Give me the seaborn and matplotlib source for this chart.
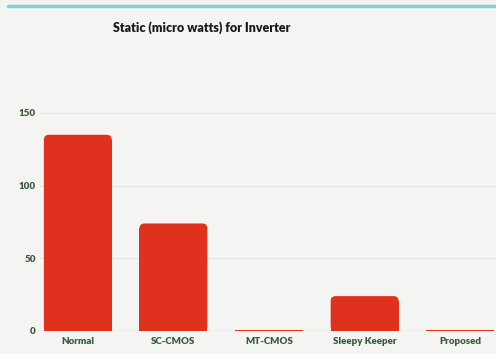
import matplotlib
matplotlib.use("Agg")
import matplotlib.pyplot as plt
import seaborn as sns
import pandas as pd
from matplotlib.patches import FancyBboxPatch

# Static power per inverter design (micro watts)
designs = ["Normal", "SC-CMOS", "MT-CMOS", "Sleepy Keeper", "Proposed"]
static_uw = [135, 74, 0.8, 24, 0.8]
y_ticks = [0, 50, 100, 150]

bg = "#f4f4f3"
bar_color = "#e0301e"
label_color = "#3a5a3a"

sns.set_theme(style="white")
plt.rcParams["font.family"] = ["Lato", "DejaVu Sans"]

df = pd.DataFrame({"design": designs, "static": static_uw})

W, H = 496, 354
fig = plt.figure(figsize=(W / 100, H / 100), dpi=100, facecolor=bg)
ax = fig.add_axes([40 / W, 1 - 331 / H, 1 - 40 / W, (331 - 113) / H])
ax.set_facecolor(bg)

sns.barplot(data=df, x="design", y="static", color=bar_color, width=0.71,
            saturation=1, ax=ax, zorder=3, linewidth=0, edgecolor="none")

ax.set_xlim(-0.5 + 10 / 95.5, 4.5 - 12 / 95.5)
ax.set_ylim(0, 150)
ax.set_yticks(y_ticks)
ax.set_yticklabels([str(t) for t in y_ticks])

# rounded top corners on the bars
fig.canvas.draw()
x_per_px = (ax.get_xlim()[1] - ax.get_xlim()[0]) / ax.bbox.width
y_per_px = (ax.get_ylim()[1] - ax.get_ylim()[0]) / ax.bbox.height
r_px = 5
for p in list(ax.patches):
    x0, w, h = p.get_x(), p.get_width(), p.get_height()
    r = r_px * x_per_px
    if h / y_per_px > 2 * r_px:
        p.set_height(h - r_px * y_per_px)
        rounded = FancyBboxPatch((x0, 0), w, h,
                                 boxstyle=f"round,pad=0,rounding_size={r}",
                                 mutation_aspect=y_per_px / x_per_px,
                                 facecolor=bar_color, edgecolor="none",
                                 linewidth=0, zorder=3)
        ax.add_patch(rounded)

for s in ax.spines.values():
    s.set_visible(False)
ax.grid(axis="y", color="#e4e4e4", linewidth=0.8, zorder=0)
ax.axhline(0, color="#d6d6d6", linewidth=1.0, zorder=1)

ax.set_xlabel("")
ax.set_ylabel("")
ax.tick_params(axis="both", length=0, labelsize=7, labelcolor=label_color)
ax.tick_params(axis="y", pad=3)
ax.tick_params(axis="x", pad=4)
for t in ax.get_xticklabels() + ax.get_yticklabels():
    t.set_fontweight("heavy")

fig.text(202 / W, 1 - 28 / H, "Static (micro watts) for Inverter",
         ha="center", va="center", fontsize=9, fontweight="heavy",
         color="#1a1a1a")

# teal rule across the top
fig.add_artist(plt.Line2D([8 / W, 1], [1 - 6 / H, 1 - 6 / H],
                          color="#7fd3d6", linewidth=2.5,
                          transform=fig.transFigure))

fig.savefig("out.png", dpi=100, facecolor=bg)
